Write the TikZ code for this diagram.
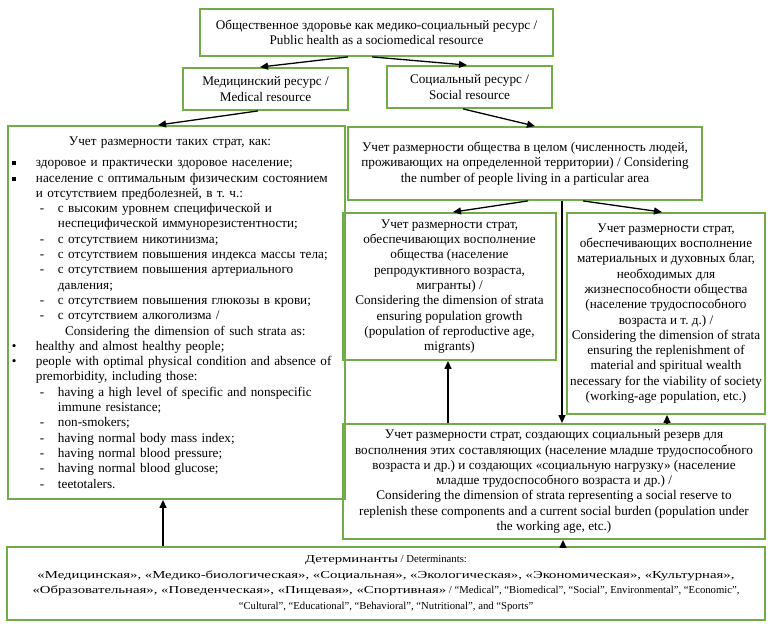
\documentclass[tikz,border=0pt]{standalone}
\usepackage{fontspec}
\usepackage{graphicx}
\setmainfont{Liberation Serif}
\frenchspacing
\usetikzlibrary{arrows.meta}
\definecolor{boxgreen}{HTML}{70AD47}
\newcommand\Lbul[2]{\makebox[24pt][l]{#1}#2}
\newcommand\Ldash[1]{\hspace*{28pt}\makebox[18pt][l]{-}#1}
\newcommand\Lcont[1]{\hspace*{46pt}#1}
\newcommand\Sq{\raisebox{1.5pt}{\rule{4pt}{4pt}}}
\newcommand\Cy[1]{\scalebox{1.38}[1]{\fontsize{10.7}{15.5}\selectfont #1}}
\tikzset{
  gbox/.style={draw=boxgreen, line width=1.8pt, align=center, inner sep=2pt,
    font=\fontsize{13.2}{15.3}\selectfont},
  arr/.style={draw=black, line width=1.3pt, -{Triangle[length=8pt,width=7pt]}}
}
\begin{document}
\begin{tikzpicture}[x=1pt,y=-1pt]
\useasboundingbox[fill=white] (0,0) rectangle (770,626);

\node[gbox, minimum width=353pt, minimum height=47pt] (top) at (376.5,32.5)
  {Общественное здоровье как медико-социальный ресурс /\\ Public health as a sociomedical resource};
\node[gbox, minimum width=165pt, minimum height=42pt] (med) at (265.5,89)
  {Медицинский ресурс /\\ Medical resource};
\node[gbox, minimum width=165pt, minimum height=42pt] (soc) at (469.5,87)
  {Социальный ресурс /\\ Social resource};

\node[gbox, align=left, text width=329pt, inner xsep=4pt, inner ysep=0pt, minimum height=373pt] (left) at (176.5,312.5)
  {\makebox[316pt][c]{Учет размерности таких страт, как:}\\[6pt]
   \Lbul{\Sq}{здоровое и практически здоровое население;}\\
   \Lbul{\Sq}{население с оптимальным физическим состоянием}\\
   \hspace*{24pt}и отсутствием предболезней, в т. ч.:\\
   \Ldash{с высоким уровнем специфической и}\\
   \Lcont{неспецифической иммунорезистентности;}\\
   \Ldash{с отсутствием никотинизма;}\\
   \Ldash{с отсутствием повышения индекса массы тела;}\\
   \Ldash{с отсутствием повышения артериального}\\
   \Lcont{давления;}\\
   \Ldash{с отсутствием повышения глюкозы в крови;}\\
   \Ldash{с отсутствием алкоголизма /}\\
   \hspace*{53pt}Considering the dimension of such strata as:\\
   \Lbul{•}{healthy and almost healthy people;}\\
   \Lbul{•}{people with optimal physical condition and absence of}\\
   \hspace*{24pt}premorbidity, including those:\\
   \Ldash{having a high level of specific and nonspecific}\\
   \Lcont{immune resistance;}\\
   \Ldash{non-smokers;}\\
   \Ldash{having normal body mass index;}\\
   \Ldash{having normal blood pressure;}\\
   \Ldash{having normal blood glucose;}\\
   \Ldash{teetotalers.}};

\node[gbox, minimum width=354pt, minimum height=73pt] (society) at (525,163.5)
  {Учет размерности общества в целом (численность людей,\\
   проживающих на определенной территории) / Considering\\
   the number of people living in a particular area};

\node[gbox, minimum width=213pt, minimum height=147pt] (stA) at (449.5,286.5)
  {Учет размерности страт,\\
   обеспечивающих восполнение\\
   общества (население\\
   репродуктивного возраста,\\
   мигранты) /\\
   Considering the dimension of strata\\
   ensuring population growth\\
   (population of reproductive age,\\
   migrants)};

\node[gbox, minimum width=198pt, minimum height=201pt] (stB) at (666,313.5)
  {Учет размерности страт,\\
   обеспечивающих восполнение\\
   материальных и духовных благ,\\
   необходимых для\\
   жизнеспособности общества\\
   (население трудоспособного\\
   возраста и т. д.) /\\
   Considering the dimension of strata\\
   ensuring the replenishment of\\
   material and spiritual wealth\\
   necessary for the viability of society\\
   (working-age population, etc.)};

\node[gbox, minimum width=422pt, minimum height=115pt] (res) at (554,481.5)
  {Учет размерности страт, создающих социальный резерв для\\
   восполнения этих составляющих (население младше трудоспособного\\
   возраста и др.) и создающих «социальную нагрузку» (население\\
   младше трудоспособного возраста и др.) /\\
   Considering the dimension of strata representing a social reserve to\\
   replenish these components and a current social burden (population under\\
   the working age, etc.)};

\node[gbox, minimum width=758pt, minimum height=73pt, font=\fontsize{10.7}{15.5}\selectfont] (det) at (386,583.5)
  {\Cy{Детерминанты} / Determinants:\\
   \Cy{«Медицинская», «Медико-биологическая», «Социальная», «Экологическая», «Экономическая», «Культурная»,}\\
   \Cy{«Образовательная», «Поведенческая», «Пищевая», «Спортивная»} / “Medical”, “Biomedical”, “Social”, Environmental”, “Economic”,\\
   “Cultural”, “Educational”, “Behavioral”, “Nutritional”, and “Sports”};

\draw[arr] ([xshift=-28.5pt]top.south) -- ([xshift=-5.5pt]med.north);
\draw[arr] ([xshift=-4.5pt]top.south) -- ([xshift=-2.5pt]soc.north);
\draw[arr] ([xshift=-7.5pt]med.south) -- ([xshift=-18.5pt]left.north);
\draw[arr] ([xshift=-6.5pt]soc.south) -- ([xshift=10pt]society.north);
\draw[arr] ([xshift=3pt]society.south) -- ([xshift=3.5pt]stA.north);
\draw[arr] ([xshift=58pt]society.south) -- ([xshift=-4pt]stB.north);
\draw[arr] ([xshift=37pt]society.south) -- ([xshift=8pt]res.north);
\draw[arr] ([xshift=-106pt]res.north) -- ([xshift=-1.5pt]stA.south);
\draw[arr] ([xshift=113pt]res.north) -- ([xshift=1pt]stB.south);
\draw[arr] ([xshift=177pt]det.north) -- ([xshift=9pt]res.south);
\draw[arr] ([xshift=-223pt]det.north) -- ([xshift=-13.5pt]left.south);
\end{tikzpicture}
\end{document}
